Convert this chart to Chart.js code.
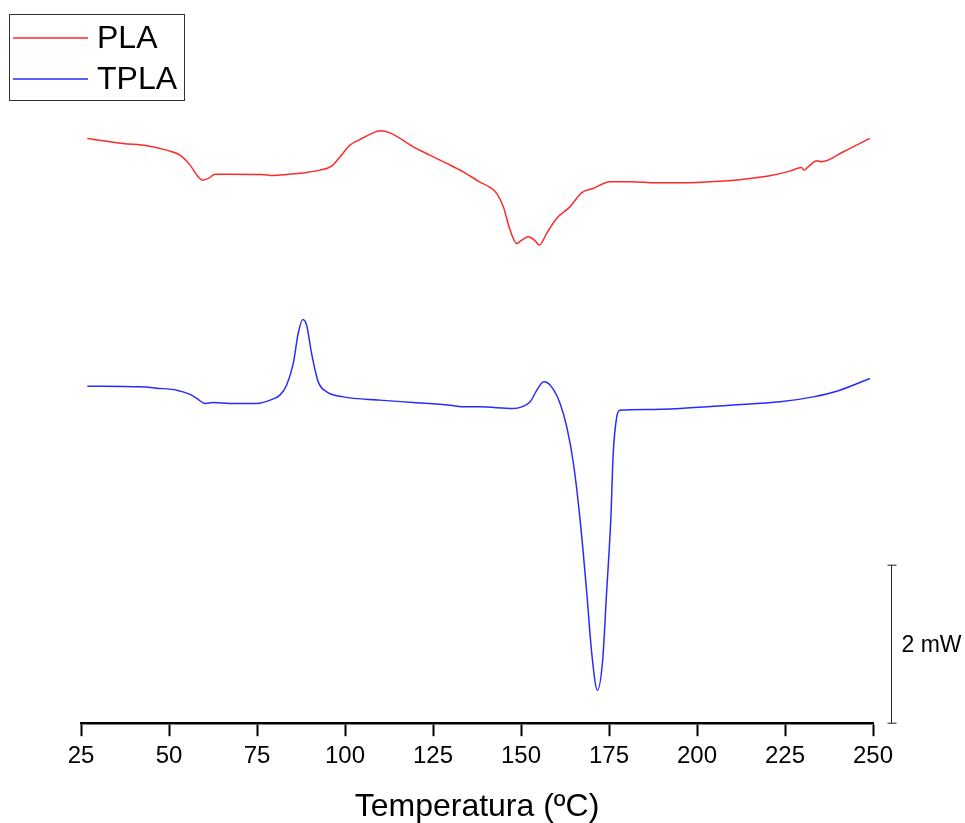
<!DOCTYPE html>
<html>
<head>
<meta charset="utf-8">
<script src="https://cdn.jsdelivr.net/npm/chart.js@4/dist/chart.umd.min.js"></script>
<style>
  html, body { margin: 0; padding: 0; background: #fff; }
  #wrap { width: 965px; height: 823px; position: relative; }
</style>
</head>
<body>
<div id="wrap"><canvas id="dsc"></canvas></div>
<script>
// DSC curves, heat flow in mW (curves are offset vertically, as in the original plot)
const plaTemp = [26.8, 37, 43.7, 49.3, 53.1, 56, 57.9, 59.6, 61.2, 63.1, 67.3, 76.3, 79.6, 83.4, 89.1, 92.9, 96.2, 98.6, 101.4, 104.3, 108, 109.9, 112.8, 119.4, 124.1, 128.9, 133.6, 138.2, 141.2, 143.1, 145, 146.9, 148.8, 150.2, 152.1, 154, 155.2, 157.3, 160.1, 163.9, 167.2, 170.5, 175.3, 181, 188.5, 199.9, 207.5, 215, 220.7, 226.4, 229.7, 230.4, 232.1, 234, 235.4, 241.6, 249.1];
const plaHeat = [7.401, 7.338, 7.308, 7.253, 7.190, 7.063, 6.937, 6.873, 6.895, 6.949, 6.949, 6.946, 6.933, 6.946, 6.971, 7.000, 7.051, 7.168, 7.316, 7.389, 7.472, 7.497, 7.472, 7.295, 7.190, 7.085, 6.978, 6.852, 6.781, 6.705, 6.535, 6.241, 6.072, 6.114, 6.156, 6.105, 6.051, 6.199, 6.389, 6.535, 6.713, 6.768, 6.852, 6.852, 6.839, 6.844, 6.861, 6.895, 6.928, 6.987, 7.034, 7.000, 7.063, 7.118, 7.105, 7.232, 7.401];

const tplaTemp = [26.8, 41.8, 46.5, 52.2, 56, 57.9, 60.2, 62.6, 67.3, 74.9, 78.7, 81.5, 83.4, 85.3, 86.7, 88, 89.1, 90.5, 92.4, 94.8, 99.5, 109.9, 119.4, 129.8, 134.1, 138.3, 147.8, 150.2, 152.6, 154.5, 156.5, 158.7, 161.1, 163, 164.9, 166.8, 168.7, 170.1, 171.7, 173.2, 174.3, 175.5, 176.2, 177.2, 178.1, 185.7, 195.2, 209.4, 223.6, 233, 240.6, 249.1];
const tplaHeat = [4.266, 4.257, 4.240, 4.215, 4.161, 4.110, 4.047, 4.059, 4.047, 4.047, 4.089, 4.152, 4.278, 4.553, 4.933, 5.110, 5.038, 4.680, 4.320, 4.194, 4.130, 4.089, 4.059, 4.025, 4.004, 4.004, 3.984, 4.004, 4.067, 4.215, 4.320, 4.257, 4.047, 3.751, 3.287, 2.570, 1.642, 0.882, 0.418, 0.797, 1.642, 2.570, 3.414, 3.877, 3.962, 3.971, 3.984, 4.025, 4.067, 4.130, 4.215, 4.363];

const xTicks = [25, 50, 75, 100, 125, 150, 175, 200, 225, 250];
const scaleBarMw = 2;
const scaleBarLabel = '2 mW';

const FONT = '"Liberation Sans", Arial, sans-serif';

const toPoints = (xs, ys) => xs.map((x, i) => ({ x, y: ys[i] }));

// boxed legend in the top-left corner
const boxLegend = {
  id: 'boxLegend',
  afterDraw(chart) {
    const { ctx } = chart;
    ctx.save();
    ctx.strokeStyle = '#333';
    ctx.lineWidth = 1;
    ctx.strokeRect(9.5, 14.5, 175, 86);
    ctx.font = `32px ${FONT}`;
    ctx.textBaseline = 'middle';
    ctx.fillStyle = '#000';
    chart.data.datasets.forEach((ds, i) => {
      const y = 38 + i * 41;
      ctx.strokeStyle = ds.borderColor;
      ctx.lineWidth = 1.5;
      ctx.beginPath();
      ctx.moveTo(13, y);
      ctx.lineTo(88, y);
      ctx.stroke();
      ctx.fillText(ds.label, 97, y + 1);
    });
    ctx.restore();
  },
};

// vertical scale bar on the right, sized through the y scale
const scaleBar = {
  id: 'scaleBar',
  afterDraw(chart) {
    const { ctx, chartArea, scales } = chart;
    const x = Math.round(chartArea.right + 18) + 0.5;
    const y0 = scales.y.getPixelForValue(0);
    const y1 = scales.y.getPixelForValue(scaleBarMw);
    ctx.save();
    ctx.strokeStyle = '#222';
    ctx.lineWidth = 1;
    ctx.beginPath();
    ctx.moveTo(x, y0);
    ctx.lineTo(x, y1);
    ctx.moveTo(x - 4, y1);
    ctx.lineTo(x + 5, y1);
    ctx.moveTo(x - 4, y0);
    ctx.lineTo(x + 5, y0);
    ctx.stroke();
    ctx.fillStyle = '#000';
    ctx.font = `23px ${FONT}`;
    ctx.textBaseline = 'middle';
    ctx.fillText(scaleBarLabel, x + 10, (y0 + y1) / 2 + 1);
    ctx.restore();
  },
};

const ctx = document.getElementById('dsc');
new Chart(ctx, {
  type: 'line',
  data: {
    datasets: [
      {
        label: 'PLA',
        data: toPoints(plaTemp, plaHeat),
        borderColor: '#ff2a2a',
        borderWidth: 1.5,
        pointRadius: 0,
        cubicInterpolationMode: 'monotone',
        fill: false,
      },
      {
        label: 'TPLA',
        data: toPoints(tplaTemp, tplaHeat),
        borderColor: '#2a2aff',
        borderWidth: 1.5,
        pointRadius: 0,
        cubicInterpolationMode: 'monotone',
        fill: false,
      },
    ],
  },
  options: {
    responsive: true,
    maintainAspectRatio: false,
    animation: false,
    layout: {
      padding: { top: 20, left: 81, right: 92, bottom: 0 },
    },
    scales: {
      x: {
        type: 'linear',
        min: 25,
        max: 250,
        afterBuildTicks: (scale) => {
          scale.ticks = xTicks.map(v => ({ value: v }));
        },
        ticks: {
          color: '#000',
          font: { family: FONT, size: 24 },
          padding: 6,
          maxRotation: 0,
        },
        grid: {
          display: true,
          drawOnChartArea: false,
          drawTicks: true,
          tickLength: 13,
          tickWidth: 2,
          tickColor: '#000',
        },
        border: { display: true, color: '#000', width: 2.5 },
        title: {
          display: true,
          text: 'Temperatura (ºC)',
          color: '#000',
          font: { family: FONT, size: 32, lineHeight: 1 },
          padding: { top: 14, bottom: 0 },
        },
      },
      y: {
        display: false,
        min: 0,
        max: 8.9,
      },
    },
    plugins: {
      legend: { display: false },
      tooltip: { enabled: false },
    },
  },
  plugins: [boxLegend, scaleBar],
});
</script>
</body>
</html>
